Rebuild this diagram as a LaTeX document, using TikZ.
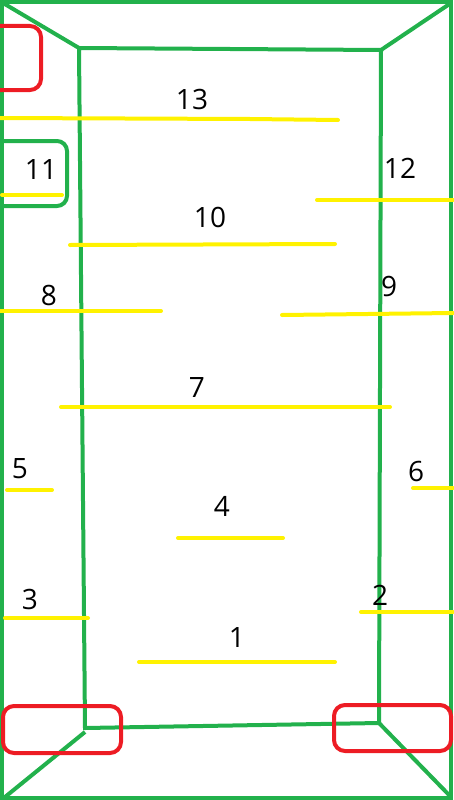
\documentclass[tikz,border=0pt]{standalone}
\usepackage{fontspec}
\setmainfont{Open Sans}
\usepackage{tikz}
\usetikzlibrary{positioning}

\definecolor{wallgreen}{RGB}{34,177,76}
\definecolor{markred}{RGB}{237,28,36}
\definecolor{lineyellow}{RGB}{255,242,0}

\begin{document}
\begin{tikzpicture}[
  x=1pt, y=-1pt,
  every node/.style={font=\fontsize{28}{30}\selectfont, inner sep=0pt},
  wall/.style={draw=wallgreen, line width=4pt},
  redbox/.style={draw=markred, line width=4pt, rounded corners=11pt},
  bar/.style={draw=lineyellow, line width=4pt, line cap=round}
]
\useasboundingbox (0,0) rectangle (453,800);

% Walls (outer box)
\draw[wall] (2,2) rectangle (451,798);

% Walls (inner box)
\draw[wall] (79,48) -- (381,50) -- (379,723) -- (85,728) -- cycle;

% Corner diagonals
\draw[wall] (3,3) -- (79,48);
\draw[wall] (381,50) -- (451,3);
\draw[wall] (85,732) -- (5,797);
\draw[wall] (379,723) -- (451,797);

% Boxes
\draw[redbox] (0,26) -- (41,26) -- (41,90) -- (0,90);
\draw[wall, rounded corners=10pt] (2,141) -- (67,141) -- (67,206) -- (2,206);
\draw[redbox] (3,706) rectangle (121,753);
\draw[redbox] (334,705) rectangle (451,751);

% Yellow lines
\draw[bar] (0,118) -- (250,119) -- (338,120);
\draw[bar] (2,195) -- (62,195);
\draw[bar] (317,200) -- (453,200);
\draw[bar] (70,245) -- (335,244);
\draw[bar] (0,311) -- (161,311);
\draw[bar] (282,315) -- (453,313);
\draw[bar] (61,407) -- (390,407);
\draw[bar] (7,490) -- (52,490);
\draw[bar] (413,488) -- (453,488);
\draw[bar] (178,538) -- (283,538);
\draw[bar] (5,618) -- (88,618);
\draw[bar] (361,612) -- (453,612);
\draw[bar] (139,662) -- (335,662);

% Labels
\node (n13) at (192,99) {13};
\node (n11) at (41,170) {11};
\node (n12) at (400,168) {12};
\node (n10) at (210,217) {10};
\node (n8) at (49,295) {8};
\node (n9) at (389,286) {9};
\node (n7) at (197,388) {7};
\node (n5) at (20,469) {5};
\node (n6) at (416,471) {6};
\node (n4) at (222,506) {4};
\node (n3) at (30,599) {3};
\node (n2) at (380,595) {2};
\node (n1) at (237,637) {1};

\end{tikzpicture}
\end{document}
